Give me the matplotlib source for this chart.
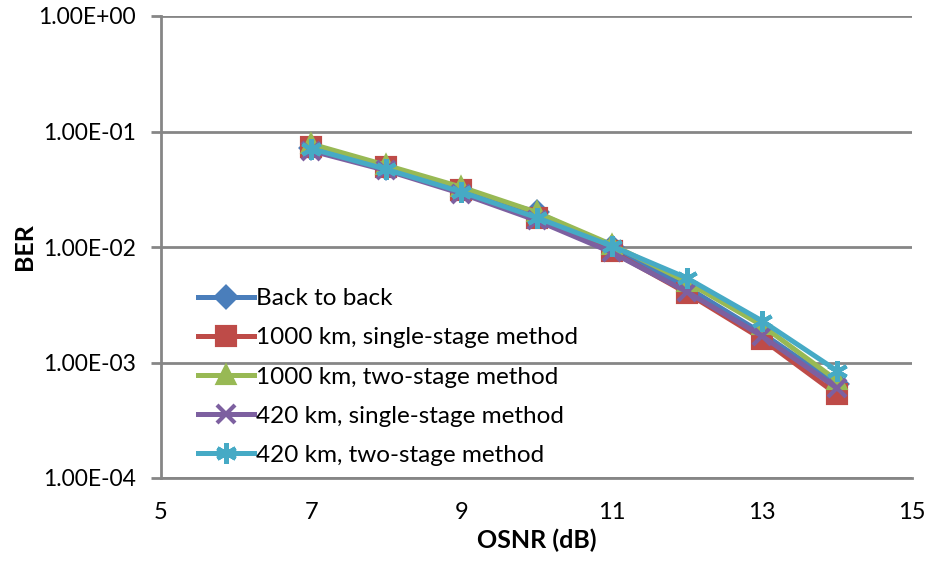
import matplotlib
matplotlib.use("Agg")
import matplotlib.pyplot as plt
from matplotlib.ticker import FixedLocator, NullLocator

plt.rcParams['font.family'] = ['Lato', 'DejaVu Sans']

osnr = [7, 8, 9, 10, 11, 12, 13, 14]

# BER
b2b = [0.072, 0.048, 0.031, 0.020, 0.0100, 0.0045, 0.0018, 0.00065]
km1000_single = [0.074, 0.049, 0.031, 0.018, 0.0092, 0.0040, 0.0016, 0.00053]
km1000_two = [0.078, 0.051, 0.033, 0.020, 0.0105, 0.0050, 0.0021, 0.00070]
km420_single = [0.068, 0.046, 0.029, 0.017, 0.0090, 0.0041, 0.0017, 0.00060]
km420_two = [0.071, 0.047, 0.030, 0.018, 0.0102, 0.0054, 0.0023, 0.00085]

labels = ['Back to back', '1000 km, single-stage method', '1000 km, two-stage method',
          '420 km, single-stage method', '420 km, two-stage method']
series = [b2b, km1000_single, km1000_two, km420_single, km420_two]
colors = ['#4A7EBB', '#BE4B48', '#98B954', '#7D60A0', '#46AAC5']
markers = ['D', 's', '^', 'x', (6, 2, 0)]
msizes = [10, 13, 12, 13, 15]

y_ticks = [1e-4, 1e-3, 1e-2, 1e-1, 1e0]
y_ticklabels = ['1.00E-04', '1.00E-03', '1.00E-02', '1.00E-01', '1.00E+00']
x_ticks = [5, 7, 9, 11, 13, 15]

fig = plt.figure(figsize=(9.29, 5.61), dpi=100)
ax = fig.add_axes([161 / 929, 1 - 478 / 561, (912 - 161) / 929, (478 - 16) / 561])

for vals, lab, c, m, ms in zip(series, labels, colors, markers, msizes):
    ax.plot(osnr, vals, color=c, lw=3.6, marker=m, ms=ms, mew=3, label=lab)

ax.set_yscale('log')
ax.set_ylim(1e-4, 1e0)
ax.set_xlim(5, 15)
ax.yaxis.set_major_locator(FixedLocator(y_ticks))
ax.yaxis.set_minor_locator(NullLocator())
ax.set_yticklabels(y_ticklabels)
ax.set_xticks(x_ticks)
ax.set_xticklabels([str(v) for v in x_ticks])

grey = '#868686'
ax.grid(axis='y', color=grey, lw=2)
ax.set_axisbelow(True)
for side in ['top', 'right']:
    ax.spines[side].set_visible(False)
for side in ['left', 'bottom']:
    ax.spines[side].set_color(grey)
    ax.spines[side].set_linewidth(2)
ax.tick_params(axis='y', colors=grey, length=7, width=2, labelcolor='black', labelsize=16.5, pad=11)
ax.tick_params(axis='x', length=0, labelcolor='black', labelsize=17, pad=17)

ax.set_xlabel('OSNR (dB)', fontsize=18, fontweight='bold', labelpad=4)
ax.set_ylabel('BER', fontsize=18, fontweight='bold', labelpad=2)

ax.legend(loc='upper left', bbox_to_anchor=(198 / 929, 1 - 288 / 561), bbox_transform=fig.transFigure,
          frameon=False, fontsize=17.5, handlelength=2.3, handletextpad=0.1, labelspacing=0.75,
          borderaxespad=0, borderpad=0)

fig.savefig('out.png', dpi=100)
